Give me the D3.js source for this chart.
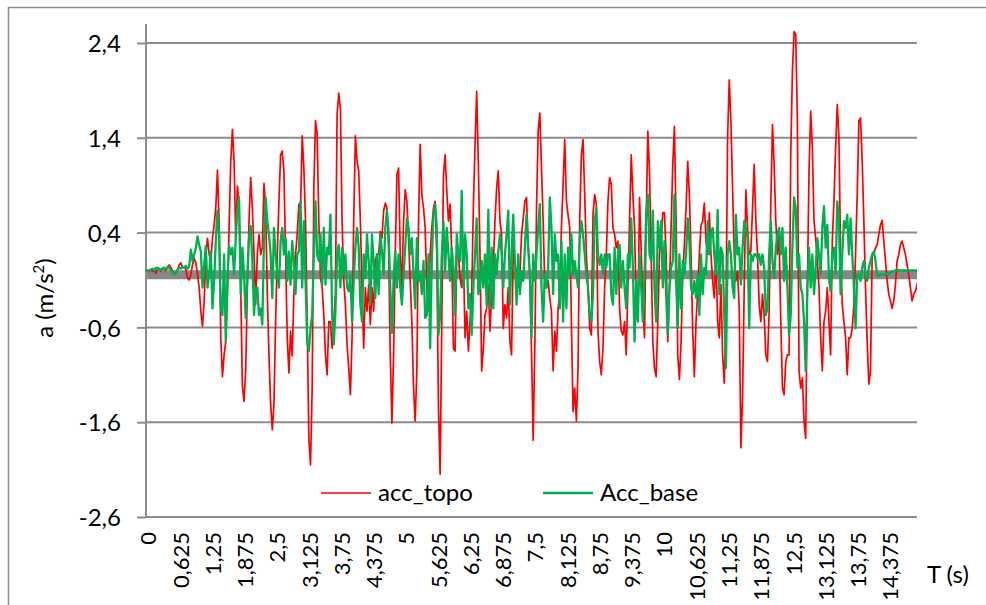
<!DOCTYPE html>
<html><head><meta charset="utf-8">
<script src="https://cdn.jsdelivr.net/npm/d3@7/dist/d3.min.js"></script>
<style>
body{margin:0;background:#fff}
svg{display:block}
text{font-family:Lato,"Open Sans",sans-serif;fill:#000}
</style>
</head><body>
<svg id="chart" width="986" height="605"></svg>
<script>
// sampling interval of the recorded signals (s)
const sampleStep = 0.0322;

// acc_topo (values in cm/s²), segment by segment
const topoSeg1 = [0,0,-1,1,-1,0,-3,3,1,-1,
  3,1,0,3,6,3,-1,-4,-3,1,
  6,8,3,4,1,-8,-10,-4,6,13,
  8,-4,-18,-43,-59,-32,17,34,17,10,
  34,48,66,106,52,-71,-112,-89,-75,-25,
  45,115,149,115,34,89,70,-18,-122,-138,
  -105,-18,52,98,66,17,-36,17,38,17,
  24,92,66,-25,-89,-141,-168,-141,-54,17,
  73,122,126,105,17,-71,-108,-64,-90,-25,
  17,38,70];
const topoSeg2 = [66,142,108,52,-54,-177,-205,-124,87,158,
  144,52,-8,-18,-47,-89,-110,-54,-54,-82,
  -54,-25,165,187,170,52,-11,-36,-78,-103,
  -131,-71,52,142,115,105,52,-18,-82,-18,
  -43,-15,-57,-18,-43,10,17,17,41,34,
  63,71,66,24,-89,-161,-89,17,101,108,
  17,-18,52,85,73,34,-11,-54,-124,-159,
  -105,52,133,80,66,45,-18,-43,17,45,
  66,73,17,-145,-215,-54,101,122,84,52,
  70,17,-82];
const topoSeg3 = [-85,17,17,-8,-18,17,-71,-43,-85,-54,
  -25,66,133,189,112,17,-106,-82,-47,-40,
  -15,-64,-25,6,52,87,105,52,38,-61,
  -36,-50,-18,-75,-89,24,6,-1,-18,-4,
  38,55,73,77,27,-4,-85,-179,-78,63,
  147,166,108,52,-18,-18,-11,-29,-43,-106,
  -64,-85,-40,-25,45,91,138,73,59,45,
  -54,-149,-124,-159,-103,52,122,138,80,17,
  -18,-61,-68,59,80,70,-64,-96,-110,-82,
  -18,17,73];
const topoSeg4 = [98,91,45,38,24,31,-40,-64,-68,-54,
  -89,-18,52,122,80,45,-40,-54,77,20,
  -40,-71,52,147,105,17,-75,-103,-112,-54,
  17,34,61,61,17,-75,-18,45,112,152,
  52,-89,-115,-75,-4,27,66,115,80,17,
  -64,-112,-54,-22,17,48,52,71,31,17,
  61,17,-11,-29,17,-54,-71,-15,-89,-119,
  -47,140,201,157,87,17,-11,-1,-40,-187,
  -134,-18,85,45,17,20,66,112,52,17,
  -36,-54,-25];
const topoSeg5 = [-47,-89,-96,-43,70,154,112,52,17,38,
  -54,-124,-131,-96,-89,-89,122,210,252,249,
  157,-106,-124,-113,-159,-177,-18,105,168,129,
  52,34,10,-18,-71,-106,-54,-43,-18,-54,
  -89,31,73,129,175,140,17,-36,-54,-71,
  -110,-71,-71,-61,-36,17,80,158,161,115,
  52,-18,-75,-120,-106,17,17,24,27,38,
  48,53,31,10,-11,-25,-32,-40,-32,-15,
  10,17,27,31,24,17,6,-4,-18,-32,
  -25,-22,-15,-8];

// Acc_base (values in cm/s²)
const baseSeg1 = [0,0,0,1,2,0,3,1,2,0,
  2,3,1,4,2,0,-2,-4,-2,1,
  3,2,4,3,5,2,4,22,10,17,
  24,36,27,20,-18,6,26,-18,-4,20,
  -40,-11,31,63,38,-40,-47,17,-75,-8,
  26,17,24,-4,34,66,77,-25,24,-4,
  -50,-4,34,47,10,-47,-18,-18,-47,-40,
  -57,34,77,52,38,17,-29,45,17,-4,
  -18,31,45,17,34,-11,20,-15,31,10,
  -25,17,20];
const baseSeg2 = [73,-18,52,-11,-75,-85,-61,-47,17,73,
  17,10,38,-15,45,-15,24,17,59,-47,
  -78,-43,17,27,-18,24,-4,17,-18,-22,
  -4,-54,-11,24,45,24,-36,-54,17,-8,
  38,10,-36,38,10,-29,17,-25,38,20,
  -4,45,63,41,-18,-66,-8,20,-18,17,
  -18,-36,-4,24,55,45,17,34,-4,-40,
  34,-11,-4,-25,10,-50,-47,17,-82,10,
  59,70,45,-68,-47,17,52,-1,45,17,
  -11,24,3];
const baseSeg3 = [-47,38,17,10,84,-18,38,17,-40,-25,
  -68,-18,17,55,-25,-18,10,-18,17,-36,
  64,-40,24,-40,17,-4,20,38,17,-18,
  17,38,63,-36,17,59,10,-36,17,-25,
  -1,-11,24,59,24,-4,-71,17,-11,17,
  45,70,-18,-54,-4,-18,3,77,45,-25,
  38,10,17,-40,31,-54,17,-40,24,-4,
  38,-4,10,-4,-18,34,52,38,17,-4,
  -18,-47,-54,-25,52,66,17,6,17,-4,
  17,3,17];
const baseSeg4 = [17,-25,-36,24,-25,17,27,-18,10,-18,
  -40,17,3,55,3,-75,-11,-54,17,-18,
  -54,-4,59,80,17,10,63,-18,-54,52,
  24,52,-18,31,-25,-68,-18,3,10,80,
  -11,-61,17,-40,10,-4,17,55,31,-18,
  -25,-11,-29,-4,-47,17,-25,3,-4,52,
  17,38,45,17,-4,64,-25,24,17,-47,
  -103,17,31,17,-18,-29,59,17,24,-15,
  24,52,45,34,-61,17,10,17,17,13,
  17,6,17];
const baseSeg5 = [3,-47,-40,17,52,10,-8,24,38,45,
  17,45,-11,24,-18,-68,-47,24,77,66,
  3,17,-18,-25,-54,-106,-18,24,-18,17,
  -25,3,34,17,-4,45,68,24,48,-8,
  -22,17,24,-4,73,52,-25,17,52,45,
  59,17,55,17,-18,-61,-4,-4,-11,3,
  10,-4,-11,3,10,17,20,10,-4,-6,
  -4,-4,-5,-4,-3,-4,-2,-1,-1,0,
  1,0,0,0,0,0,0,0,0,0,
  0,0,0,0];

const seriesNames = ["acc_topo", "Acc_base"];
const seriesColors = ["#ff0000", "#00b050"];
const yTickValues = [-2.6, -1.6, -0.6, 0.4, 1.4, 2.4];
const yTickLabels = ["-2,6", "-1,6", "-0,6", "0,4", "1,4", "2,4"];
const xTickValues = [0, 0.625, 1.25, 1.875, 2.5, 3.125, 3.75, 4.375, 5, 5.625, 6.25, 6.875,
  7.5, 8.125, 8.75, 9.375, 10, 10.625, 11.25, 11.875, 12.5, 13.125, 13.75, 14.375];
const xTickLabels = ["0", "0,625", "1,25", "1,875", "2,5", "3,125", "3,75", "4,375", "5", "5,625",
  "6,25", "6,875", "7,5", "8,125", "8,75", "9,375", "10", "10,625", "11,25", "11,875", "12,5",
  "13,125", "13,75", "14,375"];

const accTopo = [].concat(topoSeg1, topoSeg2, topoSeg3, topoSeg4, topoSeg5).map(v => v / 100);
const accBase = [].concat(baseSeg1, baseSeg2, baseSeg3, baseSeg4, baseSeg5).map(v => v / 100);

const svg = d3.select("#chart");
const P = {left: 146, right: 917, top: 24, bottom: 517};
const x = d3.scaleLinear().domain([0, 14.94]).range([P.left, P.right]);
const y = d3.scaleLinear().domain([-2.6, 2.6]).range([P.bottom, P.top]);
const gridColor = "#8c8c8c";

// outer chart border
svg.append("path").attr("d", "M8.5,700 V7.5 H1000").attr("fill", "none")
  .attr("stroke", "#8e8e8e").attr("stroke-width", 1.5);

// horizontal gridlines
svg.append("g").selectAll("line").data(yTickValues).join("line")
  .attr("x1", P.left).attr("x2", P.right)
  .attr("y1", d => y(d)).attr("y2", d => y(d))
  .attr("stroke", gridColor).attr("stroke-width", 2);

// thick zero band
svg.append("line").attr("x1", P.left).attr("x2", P.right)
  .attr("y1", y(-0.045)).attr("y2", y(-0.045))
  .attr("stroke", "#878787").attr("stroke-width", 9);

// y axis
const yAxis = d3.axisLeft(y).tickValues(yTickValues).tickFormat((d, i) => yTickLabels[i])
  .tickSize(9).tickPadding(16);
const gy = svg.append("g").attr("transform", `translate(${P.left},0)`).call(yAxis);
gy.select(".domain").remove();
gy.selectAll(".tick line").attr("stroke", gridColor).attr("stroke-width", 2);
gy.selectAll(".tick text").attr("font-size", 24).attr("font-family", "Lato").attr("dy", "0.36em");
svg.append("line").attr("x1", P.left).attr("x2", P.left).attr("y1", P.top).attr("y2", P.bottom)
  .attr("stroke", gridColor).attr("stroke-width", 2);

// x axis labels
const xAxis = d3.axisBottom(x).tickValues(xTickValues).tickFormat((d, i) => xTickLabels[i]).tickSize(0);
const gx = svg.append("g").attr("transform", `translate(0,${P.bottom})`).call(xAxis);
gx.select(".domain").remove();
gx.selectAll(".tick text").attr("font-size", 22).attr("font-family", "Lato")
  .attr("transform", "rotate(-90)").attr("text-anchor", "end")
  .attr("x", -15).attr("y", 2).attr("dy", "0.36em");

// series
svg.append("clipPath").attr("id", "plotclip").append("rect")
  .attr("x", P.left).attr("y", P.top).attr("width", P.right - P.left).attr("height", P.bottom - P.top);
const line = d3.line().x((d, i) => x(i * sampleStep)).y(d => y(d));
const plot = svg.append("g").attr("clip-path", "url(#plotclip)");
plot.append("path").datum(accTopo).attr("d", line).attr("fill", "none")
  .attr("stroke", seriesColors[0]).attr("stroke-width", 1.7).attr("stroke-linejoin", "round");
plot.append("path").datum(accBase).attr("d", line).attr("fill", "none")
  .attr("stroke", seriesColors[1]).attr("stroke-width", 2.3).attr("stroke-linejoin", "round");

// axis titles
const yt = svg.append("text").attr("transform", "translate(53,298) rotate(-90)")
  .attr("text-anchor", "middle").attr("font-size", 24);
yt.append("tspan").text("a (m/s");
yt.append("tspan").attr("font-size", 15).attr("dy", -9).text("2");
yt.append("tspan").attr("dy", 9).text(")");
svg.append("text").attr("x", 927).attr("y", 583).attr("font-size", 24).text("T (s)");

// legend
const legendX = [321, 543];
seriesNames.forEach((name, i) => {
  svg.append("line").attr("x1", legendX[i]).attr("x2", legendX[i] + 50)
    .attr("y1", 493).attr("y2", 493).attr("stroke", seriesColors[i]).attr("stroke-width", i ? 2.3 : 1.7);
  svg.append("text").attr("x", legendX[i] + 57).attr("y", 501).attr("font-size", 24).text(name);
});
</script>
</body></html>
